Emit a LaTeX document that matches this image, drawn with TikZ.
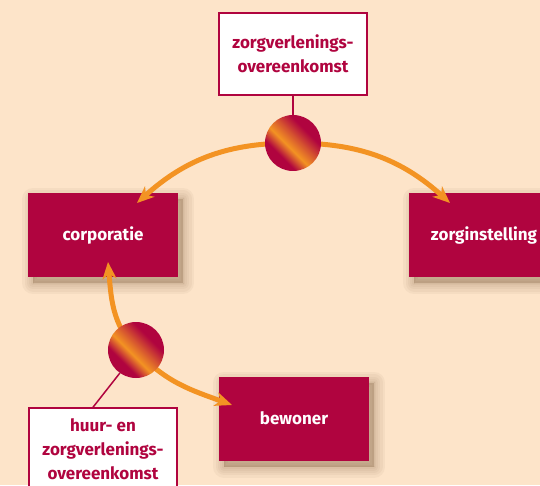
\documentclass[tikz,border=0pt]{standalone}
\usepackage{fontspec}
\setmainfont{Fira Sans}
\usetikzlibrary{arrows.meta,positioning,calc}

\definecolor{peach}{HTML}{FDE4C9}
\definecolor{wine}{HTML}{B0043F}
\definecolor{amber}{HTML}{F39323}
\definecolor{umber}{HTML}{7A5A3A}

\pgfdeclareverticalshading{knot}{100bp}{color(0bp)=(wine); color(34bp)=(wine);
  color(45bp)=(amber); color(55bp)=(amber!55!wine); color(66bp)=(wine); color(100bp)=(wine)}

\tikzset{
  shadowlayer/.style={preaction={fill=umber, draw=umber, opacity=.055, line width=#1,
    line join=round, transform canvas={shift={(5pt,-6pt)}}}},
  party/.style={fill=wine, text=white, font=\bfseries\fontsize{17}{20}\selectfont,
    minimum width=150pt, minimum height=84pt, inner sep=0pt,
    shadowlayer=22pt, shadowlayer=17pt, shadowlayer=12pt, shadowlayer=8pt,
    shadowlayer=4pt, shadowlayer=0pt},
  deal/.style={draw=wine, line width=1.5pt, fill=white, text=wine, align=center,
    font=\bfseries\fontsize{17}{24}\selectfont, minimum width=148pt, minimum height=82pt, inner sep=0pt},
  flow/.style={draw=amber, line width=5pt, -{Stealth[length=17pt,width=14pt,inset=5pt]}},
  ball/.style={circle, minimum size=56pt, inner sep=0pt, shading=knot, shading angle=-45},
  tie/.style={draw=wine, line width=1.5pt}
}

\begin{document}
\begin{tikzpicture}[x=1pt,y=1pt]
  \useasboundingbox[fill=peach] (0,0) rectangle (540,485);

  % partijen
  \node[party] (corp) at (103,250) {corporatie};
  \node[party] (zorg) at (484,250) {zorginstelling};
  \node[party] (bew)  at (294,66.5) {bewoner};

  % overeenkomsten
  \node[deal] (top)  at (293,431) {zorgverlenings-\\overeenkomst};
  \node[deal] (huur) at (103,36) {huur- en\\zorgverlenings-\\overeenkomst};

  % knooppunten
  \coordinate (k1) at (293,342);
  \coordinate (k2) at (136,135);
  \coordinate (corpin) at (137,282);
  \coordinate (zorgin) at (450,282);
  \coordinate (corpon) at (108,223);
  \coordinate (bewin)  at (232,80);

  \draw[flow] (k1) to[out=180,in=42] (corpin);
  \draw[flow] (k1) to[out=0,in=138] (zorgin);
  \draw[flow] (k2) to[out=132,in=-85] (corpon);
  \draw[flow] (k2) to[out=-48,in=160] (bewin);

  \node[ball] (b1) at (k1) {};
  \node[ball] (b2) at (k2) {};

  \draw[tie] (top.south) -- (b1.north);
  \draw[tie] (b2.235) -- ($(huur.north)+(-10,0)$);
\end{tikzpicture}
\end{document}
